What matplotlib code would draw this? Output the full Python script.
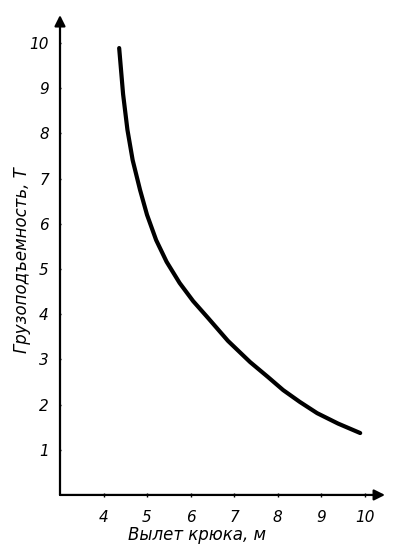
import matplotlib.pyplot as plt

# hook reach, m / load capacity, t
reach = [4.36, 4.45, 4.55, 4.67, 4.84, 5.00, 5.21, 5.45, 5.75, 6.06, 6.40,
         6.86, 7.37, 7.78, 8.13, 8.51, 8.91, 9.39, 9.90]
capacity = [9.89, 8.87, 8.08, 7.41, 6.75, 6.20, 5.64, 5.16, 4.69, 4.29, 3.92,
            3.41, 2.94, 2.61, 2.32, 2.06, 1.81, 1.58, 1.37]

x_ticks = [4, 5, 6, 7, 8, 9, 10]
y_ticks = [1, 2, 3, 4, 5, 6, 7, 8, 9, 10]

x_label = "Вылет крюка, м"
y_label = "Грузоподъемность, Т"

fig = plt.figure(figsize=(4, 5.58), dpi=100)
ax = fig.add_axes([0.15, 0.113, 0.8125, 0.86])
ax.set_xlim(3, 10.47)
ax.set_ylim(0, 10.62)

for s in ax.spines.values():
    s.set_visible(False)

arr = dict(arrowstyle='-|>', lw=1.6, color='black', mutation_scale=16, shrinkA=0, shrinkB=0)
ax.annotate('', xy=(3, 10.62), xytext=(3, 0), arrowprops=arr, annotation_clip=False)
ax.annotate('', xy=(10.47, 0), xytext=(3, 0), arrowprops=arr, annotation_clip=False)

ax.plot(reach, capacity, color='black', lw=3, solid_capstyle='round', solid_joinstyle='round')

ax.set_xticks(x_ticks)
ax.set_yticks(y_ticks)
ax.set_xticklabels([str(v) for v in x_ticks], fontstyle='italic', fontsize=11)
ax.set_yticklabels([str(v) for v in y_ticks], fontstyle='italic', fontsize=11)
ax.tick_params(axis='x', length=3, width=1, direction='inout', pad=9)
ax.tick_params(axis='y', length=2, width=1, direction='inout', pad=7)

ax.set_xlabel(x_label, fontstyle='italic', fontsize=12)
ax.set_ylabel(y_label, fontstyle='italic', fontsize=12)
ax.xaxis.set_label_coords(0.42, -0.065)
ax.yaxis.set_label_coords(-0.088, 0.49)

fig.savefig('out.png', dpi=100)
